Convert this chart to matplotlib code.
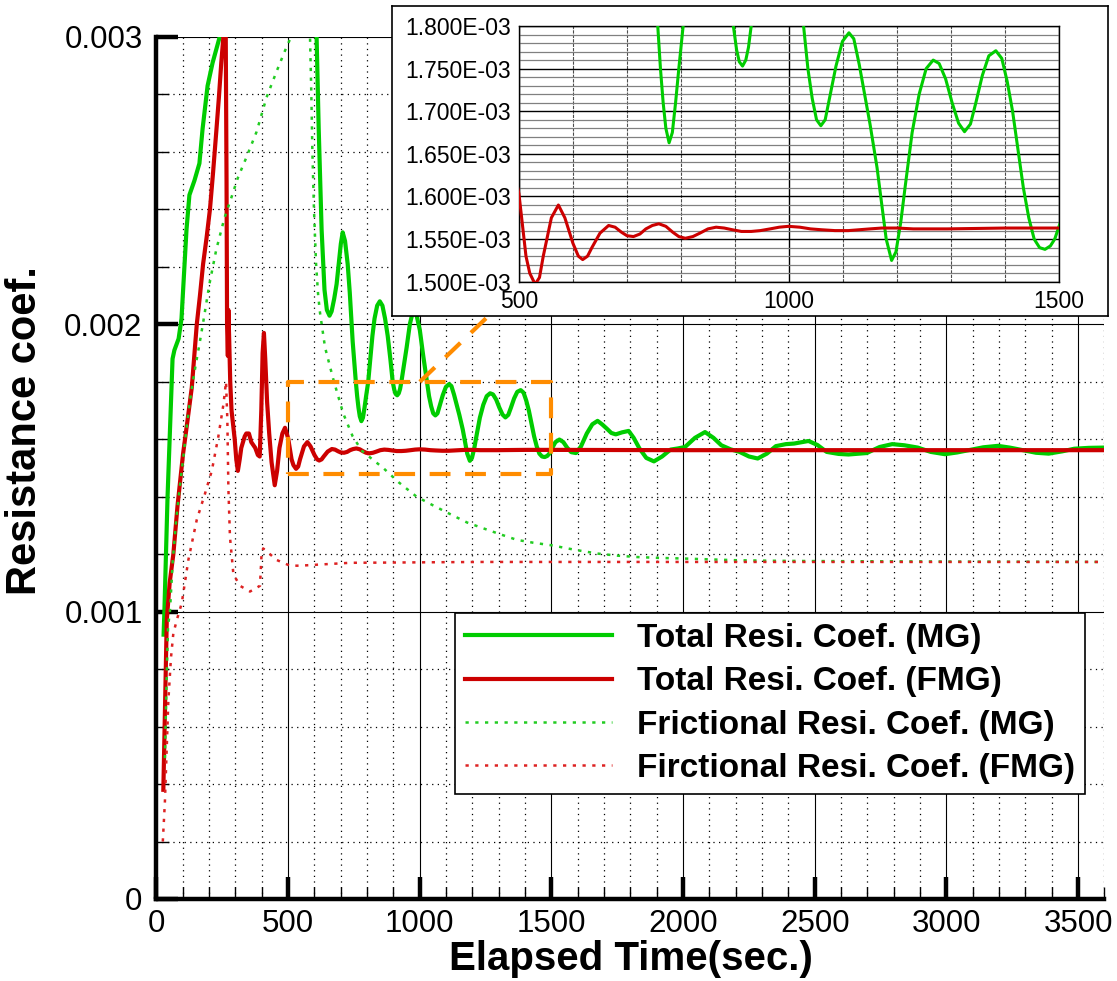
import matplotlib
matplotlib.use('Agg')
import matplotlib.pyplot as plt
from matplotlib.ticker import MultipleLocator, FuncFormatter

plt.rcParams['font.family'] = ['Liberation Sans', 'DejaVu Sans']

# Total resistance coefficient (MG)
t_total_mg = [27, 30, 36, 42, 48, 53, 61, 68, 84, 95, 105, 114, 125, 144, 163, 175, 194, 213, 243,
              300, 400, 500, 570, 600, 608, 616, 627, 638, 647, 657, 665, 675, 684, 692, 700, 707,
              716, 726, 734, 745, 757, 762, 767, 772, 778, 784, 790, 796, 804, 812, 820, 828, 838,
              848, 858, 868, 878, 888, 897, 903, 908, 914, 920, 925, 930, 940, 950, 962, 975, 988,
              1000, 1013, 1027, 1035, 1043, 1051, 1059, 1067, 1075, 1087, 1099, 1111, 1120, 1130,
              1140, 1150, 1163, 1172, 1180, 1190, 1198, 1207, 1215, 1228, 1241, 1254, 1267, 1278,
              1290, 1302, 1314, 1325, 1336, 1346, 1358, 1370, 1383, 1394, 1404, 1414, 1424, 1434,
              1444, 1454, 1464, 1474, 1484, 1492, 1500, 1515, 1530, 1545, 1560, 1575, 1593, 1612,
              1634, 1655, 1675, 1692, 1710, 1727, 1744, 1768, 1793, 1812, 1834, 1860, 1889, 1920,
              1952, 1980, 2007, 2045, 2083, 2115, 2145, 2180, 2214, 2250, 2283, 2318, 2352, 2390,
              2421, 2476, 2510, 2545, 2590, 2628, 2697, 2746, 2794, 2840, 2891, 2940, 2994, 3040,
              3084, 3140, 3195, 3240, 3291, 3340, 3388, 3440, 3485, 3540, 3600]
cr_total_mg = [0.92e-3, 1.00e-3, 1.20e-3, 1.40e-3, 1.55e-3, 1.67e-3, 1.88e-3, 1.91e-3, 1.95e-3, 2.02e-3,
               2.18e-3, 2.33e-3, 2.45e-3, 2.50e-3, 2.56e-3, 2.68e-3, 2.83e-3, 2.91e-3, 3.01e-3,
               3.40e-3, 4.00e-3, 4.20e-3, 3.80e-3, 3.20e-3, 3.00e-3, 2.68e-3, 2.33e-3, 2.12e-3, 2.05e-3,
               2.03e-3, 2.045e-3, 2.09e-3, 2.14e-3, 2.21e-3, 2.28e-3, 2.32e-3,
               2.29e-3, 2.21e-3, 2.11e-3, 1.94e-3, 1.80e-3, 1.75e-3, 1.71e-3, 1.68e-3, 1.663e-3,
               1.675e-3, 1.71e-3, 1.75e-3, 1.80e-3, 1.88e-3, 1.96e-3, 2.02e-3, 2.065e-3,
               2.08e-3, 2.065e-3, 2.02e-3, 1.96e-3, 1.88e-3, 1.80e-3, 1.772e-3, 1.758e-3, 1.753e-3,
               1.76e-3, 1.775e-3, 1.80e-3, 1.86e-3, 1.92e-3, 2.00e-3, 2.05e-3, 2.03e-3,
               1.98e-3, 1.89e-3, 1.80e-3, 1.75e-3, 1.715e-3, 1.69e-3, 1.683e-3, 1.69e-3, 1.715e-3,
               1.753e-3, 1.782e-3, 1.792e-3, 1.785e-3, 1.755e-3,
               1.72e-3, 1.685e-3, 1.634e-3, 1.59e-3, 1.55e-3, 1.525e-3, 1.535e-3, 1.57e-3, 1.611e-3,
               1.675e-3, 1.72e-3, 1.75e-3, 1.76e-3, 1.756e-3,
               1.738e-3, 1.71e-3, 1.686e-3, 1.676e-3, 1.685e-3, 1.71e-3, 1.742e-3, 1.765e-3, 1.771e-3,
               1.762e-3, 1.735e-3, 1.70e-3, 1.655e-3, 1.61e-3,
               1.575e-3, 1.55e-3, 1.54e-3, 1.538e-3, 1.542e-3, 1.55e-3, 1.565e-3, 1.59e-3, 1.599e-3,
               1.59e-3, 1.57e-3, 1.555e-3, 1.552e-3, 1.575e-3,
               1.62e-3, 1.652e-3, 1.664e-3, 1.652e-3, 1.637e-3, 1.622e-3, 1.617e-3, 1.624e-3, 1.629e-3,
               1.605e-3, 1.568e-3, 1.535e-3, 1.523e-3, 1.54e-3,
               1.564e-3, 1.568e-3, 1.573e-3, 1.605e-3, 1.625e-3, 1.605e-3, 1.579e-3, 1.565e-3, 1.556e-3,
               1.54e-3, 1.533e-3, 1.55e-3, 1.576e-3, 1.583e-3,
               1.585e-3, 1.594e-3, 1.58e-3, 1.556e-3, 1.549e-3, 1.547e-3, 1.552e-3, 1.573e-3, 1.583e-3,
               1.579e-3, 1.571e-3, 1.556e-3, 1.548e-3, 1.554e-3,
               1.562e-3, 1.572e-3, 1.577e-3, 1.571e-3, 1.562e-3, 1.553e-3, 1.55e-3, 1.558e-3, 1.567e-3,
               1.570e-3, 1.571e-3]

# Total resistance coefficient (FMG)
t_total_fmg = [26, 32, 39, 50, 64, 80, 101, 117, 134, 153, 165, 177, 190, 203, 215, 227, 237, 246, 254,
               258, 263, 266, 268, 271, 273, 276, 280, 285, 297, 303, 309, 316, 322, 335, 341, 351,
               360, 375, 385, 392, 398, 403, 408, 413, 420, 428, 437, 449, 458, 467, 478, 488, 500,
               513, 520, 530, 538, 545, 560, 573, 585, 600, 610, 618, 627, 635, 650, 666, 678, 690,
               700, 712, 724, 735, 747, 759, 772, 785, 796, 808, 822, 835, 850, 865, 880, 895, 912,
               930, 947, 965, 982, 999, 1020, 1040, 1060, 1085, 1110, 1130, 1150, 1172, 1200, 1230,
               1293, 1400, 1500, 2000, 2500, 3000, 3600]
cr_total_fmg = [0.38e-3, 0.65e-3, 0.97e-3, 1.10e-3, 1.20e-3, 1.37e-3, 1.55e-3, 1.66e-3, 1.78e-3, 2.00e-3,
                2.10e-3, 2.21e-3, 2.30e-3, 2.40e-3, 2.53e-3, 2.67e-3, 2.79e-3, 2.91e-3, 3.00e-3,
                3.05e-3, 3.00e-3, 2.50e-3, 2.00e-3, 1.89e-3, 2.05e-3, 1.95e-3, 1.80e-3, 1.70e-3, 1.60e-3,
                1.53e-3, 1.49e-3, 1.53e-3, 1.57e-3, 1.61e-3, 1.62e-3, 1.62e-3,
                1.59e-3, 1.57e-3, 1.545e-3, 1.54e-3, 1.70e-3, 1.90e-3, 1.97e-3, 1.88e-3, 1.73e-3, 1.62e-3,
                1.52e-3, 1.44e-3, 1.49e-3, 1.57e-3, 1.62e-3, 1.64e-3, 1.603e-3,
                1.53e-3, 1.51e-3, 1.497e-3, 1.505e-3, 1.53e-3, 1.575e-3, 1.59e-3, 1.575e-3, 1.545e-3,
                1.53e-3, 1.526e-3, 1.53e-3, 1.54e-3, 1.557e-3, 1.566e-3, 1.564e-3, 1.558e-3,
                1.554e-3, 1.553e-3, 1.556e-3, 1.562e-3, 1.566e-3, 1.568e-3, 1.565e-3, 1.558e-3, 1.553e-3,
                1.551e-3, 1.553e-3, 1.557e-3, 1.562e-3, 1.564e-3, 1.563e-3, 1.561e-3, 1.559e-3,
                1.559e-3, 1.56e-3, 1.562e-3, 1.564e-3, 1.565e-3, 1.564e-3, 1.562e-3, 1.561e-3, 1.56e-3,
                1.56e-3, 1.561e-3, 1.562e-3, 1.563e-3, 1.563e-3, 1.562e-3,
                1.562e-3, 1.563e-3, 1.563e-3, 1.562e-3, 1.562e-3, 1.562e-3, 1.562e-3]

# Frictional resistance coefficient (MG)
t_fric_mg = [32, 38, 44, 51, 62, 75, 88, 101, 113, 125, 138, 151, 163, 176, 201, 227, 258, 284, 309,
             341, 380, 418, 456, 487, 506, 530, 555, 575, 583, 588, 592, 598, 606, 614, 621, 640,
             671, 709, 745, 780, 820, 861, 920, 988, 1050, 1114, 1180, 1241, 1303, 1368, 1430,
             1500, 1590, 1676, 1750, 1826, 1910, 2000, 2100, 2200, 2350, 2500, 2800, 3100, 3600]
cf_fric_mg = [0.49e-3, 0.75e-3, 0.95e-3, 1.00e-3, 1.18e-3, 1.32e-3, 1.43e-3, 1.53e-3, 1.63e-3, 1.72e-3,
              1.80e-3, 1.87e-3, 1.93e-3, 2.00e-3, 2.14e-3, 2.26e-3, 2.37e-3, 2.44e-3, 2.51e-3,
              2.58e-3, 2.67e-3, 2.79e-3, 2.88e-3, 2.95e-3, 2.99e-3, 3.05e-3, 3.08e-3, 3.04e-3, 3.00e-3,
              2.80e-3, 2.60e-3, 2.40e-3, 2.21e-3, 2.10e-3, 2.04e-3, 1.92e-3,
              1.81e-3, 1.69e-3, 1.61e-3, 1.56e-3, 1.53e-3, 1.50e-3, 1.45e-3, 1.40e-3, 1.37e-3, 1.34e-3,
              1.31e-3, 1.29e-3, 1.27e-3, 1.25e-3, 1.24e-3,
              1.231e-3, 1.215e-3, 1.202e-3, 1.195e-3, 1.19e-3, 1.187e-3, 1.185e-3, 1.182e-3, 1.179e-3,
              1.177e-3, 1.176e-3, 1.175e-3, 1.174e-3, 1.173e-3]

# Frictional resistance coefficient (FMG)
t_fric_fmg = [24, 32, 45, 55, 64, 80, 96, 121, 153, 184, 210, 235, 254, 264, 269, 273, 279, 292, 317,
              355, 393, 399, 405, 431, 456, 507, 545, 735, 1240, 2000, 3600]
cf_fric_fmg = [0.20e-3, 0.34e-3, 0.69e-3, 0.84e-3, 0.925e-3, 0.98e-3, 1.03e-3, 1.18e-3, 1.32e-3, 1.41e-3,
               1.49e-3, 1.61e-3, 1.72e-3, 1.80e-3, 1.67e-3, 1.43e-3, 1.26e-3, 1.13e-3, 1.09e-3,
               1.07e-3, 1.09e-3, 1.20e-3, 1.22e-3, 1.20e-3, 1.18e-3, 1.16e-3, 1.16e-3, 1.17e-3, 1.173e-3,
               1.173e-3, 1.173e-3]

labels = ['Total Resi. Coef. (MG)', 'Total Resi. Coef. (FMG)',
          'Frictional Resi. Coef. (MG)', 'Firctional Resi. Coef. (FMG)']

# zoom window shown in the inset
box_t = [500, 1500]
box_cr = [1.48e-3, 1.80e-3]

GREEN = '#00CC00'
RED = '#CC0000'
ORANGE = '#FF8C00'
dots = (0, (1.3, 2.6))

fig = plt.figure(figsize=(11.17, 9.81), dpi=100)
ax = fig.add_axes([0.1401, 0.0836, 0.8487, 0.8787])

ax.plot(t_total_mg, cr_total_mg, color=GREEN, lw=3, label=labels[0], zorder=3)
ax.plot(t_total_fmg, cr_total_fmg, color=RED, lw=3, label=labels[1], zorder=3)
ax.plot(t_fric_mg, cf_fric_mg, color='#22CC22', lw=1.8, ls=dots, label=labels[2], zorder=3)
ax.plot(t_fric_fmg, cf_fric_fmg, color='#DD2222', lw=1.8, ls=dots, label=labels[3], zorder=3)

# dashed orange window + pointer to inset
bx = [box_t[0], box_t[1], box_t[1], box_t[0], box_t[0]]
by = [box_cr[0], box_cr[0], box_cr[1], box_cr[1], box_cr[0]]
ax.plot(bx, by, color=ORANGE, lw=3, ls=(0, (5, 3.5)), zorder=4)
ax.plot([1000, 1330], [1.80e-3, 2.09e-3], color=ORANGE, lw=3, ls=(0, (5, 3.5)), zorder=4)

ax.set_xlim(0, 3600)
ax.set_ylim(0, 0.003)
ax.xaxis.set_major_locator(MultipleLocator(500))
ax.xaxis.set_minor_locator(MultipleLocator(100))
ax.yaxis.set_major_locator(MultipleLocator(0.001))
ax.yaxis.set_minor_locator(MultipleLocator(0.0002))
ax.yaxis.set_major_formatter(FuncFormatter(lambda v, p: '0' if abs(v) < 1e-12 else f'{v:.3f}'))

ax.grid(which='major', color='black', lw=0.8)
ax.grid(which='minor', color='black', lw=0.9, ls=(0, (1, 3.5)))

ax.tick_params(which='major', direction='in', length=16, width=3.2, labelsize=22.5)
ax.tick_params(which='minor', direction='in', length=9, width=1)
ax.tick_params(axis='y', which='major', pad=10)
ax.tick_params(axis='x', which='major', pad=7)
for s in ['top', 'right']:
    ax.spines[s].set_visible(False)
for s in ['left', 'bottom']:
    ax.spines[s].set_linewidth(3.2)

ax.set_xlabel('Elapsed Time(sec.)', fontsize=29, fontweight='bold')
ax.set_ylabel('Resistance coef.', fontsize=30, fontweight='bold')
ax.xaxis.set_label_coords(0.5, -0.048)
ax.yaxis.set_label_coords(-0.118, 0.543)

leg = ax.legend(loc='upper left', bbox_to_anchor=(0.4073, 0.3751), bbox_transform=fig.transFigure,
                borderaxespad=0, fancybox=False, framealpha=1, edgecolor='black',
                prop={'size': 24, 'weight': 'bold'}, handlelength=4.4, handletextpad=0.75,
                borderpad=0.3, labelspacing=0.37)
leg.get_frame().set_linewidth(1.2)

# white frame behind the inset
frame = fig.add_axes([0.3509, 0.6779, 0.641, 0.316])
frame.set_xticks([])
frame.set_yticks([])
for s in frame.spines.values():
    s.set_linewidth(1.2)

ins = fig.add_axes([0.4646, 0.7128, 0.4835, 0.2607])
ins.plot(t_total_mg, cr_total_mg, color=GREEN, lw=2.2, zorder=3)
ins.plot(t_total_fmg, cr_total_fmg, color=RED, lw=2.2, zorder=3)
ins.set_xlim(500, 1500)
ins.set_ylim(1.5e-3, 1.8e-3)
ins.xaxis.set_major_locator(MultipleLocator(500))
ins.xaxis.set_minor_locator(MultipleLocator(100))
ins.yaxis.set_major_locator(MultipleLocator(5e-5))
ins.yaxis.set_minor_locator(MultipleLocator(1e-5))
ins.yaxis.set_major_formatter(FuncFormatter(lambda v, p: f'{v:.3E}'))
ins.grid(which='major', color='black', lw=1)
ins.xaxis.grid(which='minor', color='0.3', lw=0.8, ls=(0, (3, 1)))
ins.yaxis.grid(which='minor', color='0.5', lw=0.9)
ins.tick_params(which='both', length=0, labelsize=16.5)
ins.tick_params(axis='y', pad=6)
ins.tick_params(axis='x', pad=6)
for s in ins.spines.values():
    s.set_linewidth(1)

fig.savefig('out.png', dpi=100)
